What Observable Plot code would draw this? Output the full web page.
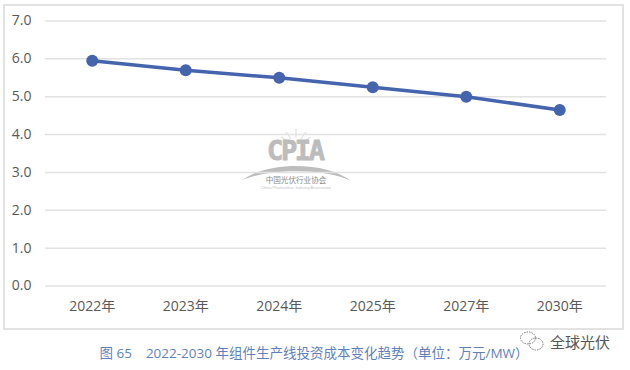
<!DOCTYPE html>
<html><head><meta charset="utf-8">
<script src="https://cdn.jsdelivr.net/npm/d3@7"></script>
<script src="https://cdn.jsdelivr.net/npm/@observablehq/plot@0.6"></script>
<style>
html,body{margin:0;padding:0;background:#fff;overflow:hidden}
#page{position:relative;width:630px;height:370px;font-family:"Open Sans","Noto Sans CJK SC",sans-serif}
#frame{position:absolute;left:3px;top:4px;width:617px;height:322px;border:2px solid #e2e2e2;box-sizing:content-box}
#chart{position:absolute;left:0;top:0}
#chart svg{display:block;background:transparent}
#caption{position:absolute;left:0;top:344px;width:628px;text-align:center;font-size:13.5px;line-height:18px;color:#5f7fbd;white-space:pre}
#brand{position:absolute;left:550px;top:333px;font-size:15px;line-height:18px;color:#555;font-family:"Noto Sans CJK SC",sans-serif}
#wx{position:absolute;left:518px;top:330px}
#wm{position:absolute;left:236px;top:124px}
</style></head><body>
<div id="page">
<div id="frame"></div>
<svg id="wm" width="120" height="68" viewBox="0 0 120 68">
  <g stroke="#d9d9d9" fill="none" stroke-width="1">
    <path d="M60 5V14M50 8L55 15M70 8L65 15M45 13L52 17M75 13L68 17"/>
  </g>
  <text x="60" y="36" text-anchor="middle" font-family="'DejaVu Sans Mono','Liberation Mono',monospace" font-weight="700" font-size="27" fill="#bcbcbc" stroke="#bcbcbc" stroke-width="0.8" textLength="58">CPIA</text>
  <path d="M5 57C30 37 90 37 115 57C90 44 30 44 5 57Z" fill="#bdbdbd"/>
  <text x="60" y="59" text-anchor="middle" font-family="'Noto Sans CJK SC'" font-size="7.6" fill="#8c8c8c">中国光伏行业协会</text>
  <text x="60" y="65" text-anchor="middle" font-family="'Liberation Sans'" font-size="4" fill="#c4c4c4">China Photovoltaic Industry Association</text>
</svg>
<div id="chart"></div>
<div id="caption">图 65    2022-2030 年组件生产线投资成本变化趋势（单位：万元/MW）</div>
<svg id="wx" width="30" height="24" viewBox="0 0 30 24" fill="none" stroke="#777" stroke-width="1" stroke-dasharray="1.5 1">
  <ellipse cx="10" cy="8" rx="7.5" ry="6"/><ellipse cx="18" cy="14" rx="7" ry="6"/>
</svg>
<div id="brand">全球光伏</div>
</div>
<script>
const years = ["2022年","2023年","2024年","2025年","2027年","2030年"];
const costs = [5.95,5.7,5.5,5.25,5.0,4.65];
const yTicks = [0,1,2,3,4,5,6,7];
const data = years.map((year,i)=>({year,cost:costs[i]}));
const font = '"Open Sans","Noto Sans CJK SC",sans-serif';
const blue = "#4464ad";
const plot = Plot.plot({
  width:630,height:330,
  marginLeft:45,marginRight:24,marginTop:20.5,marginBottom:44.5,
  style:{background:"transparent",fontFamily:font,fontSize:"14px",color:"#595959"},
  x:{type:"band",domain:years,padding:0,round:false,label:null,tickSize:0,tickPadding:15},
  y:{domain:[0,7],ticks:yTicks,label:null,tickSize:0,tickPadding:14,tickFormat:d=>d.toFixed(1)},
  marks:[
    Plot.ruleY(yTicks,{stroke:"#e2e2e2",strokeWidth:1.5}),
    Plot.lineY(data,{x:"year",y:"cost",stroke:blue,strokeWidth:3.5}),
    Plot.dot(data,{x:"year",y:"cost",fill:blue,r:6})
  ]
});
document.getElementById("chart").appendChild(plot);
</script>
</body></html>
